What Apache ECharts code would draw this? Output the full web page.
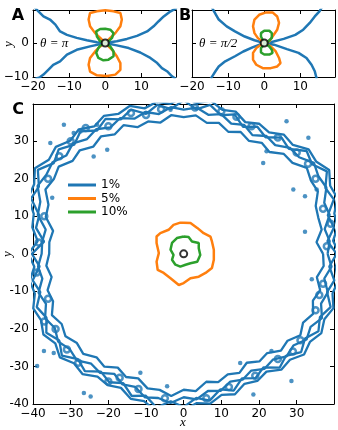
<!DOCTYPE html>
<html>
<head>
<meta charset="utf-8">
<script src="https://cdn.jsdelivr.net/npm/echarts@6/dist/echarts.min.js"></script>
<style>
html, body { margin: 0; padding: 0; background: #fff; }
#main { width: 338px; height: 430px; }
</style>
</head>
<body>
<div id="main"></div>
<script>
var blue = '#1f77b4', orange = '#ff7f0e', green = '#2ca02c';

// ---- panel A (theta = pi) ----
var aArmUL = [[-19.5,10.4],[-18.5,9.3],[-17.1,7.8],[-15.3,6.9],[-13.8,5.4],[-12.5,3.4],[-10.6,2.4],[-7.9,1.5],[-5.1,0.8],[-2.3,0.2],[0,0]];
var aArmLL = [[0,0],[-4.2,-1.0],[-7.9,-2.0],[-10.6,-3.4],[-12.5,-5.4],[-14.4,-6.4],[-15.7,-7.8],[-17.1,-9.3],[-18.1,-10.1],[-19.3,-10.5]];
var aArmUR = [[0,0],[3.2,0.5],[6.0,1.2],[8.8,2.1],[11.6,3.4],[13.4,4.9],[14.8,6.4],[16.2,7.8],[18.1,9.3],[19.0,9.8],[19.8,10.4]];
var aArmLR = [[0,0],[3.2,-0.7],[6.5,-1.5],[9.7,-2.8],[12.5,-4.4],[14.4,-5.9],[15.7,-7.4],[17.1,-8.3],[18.5,-9.8],[19.5,-10.5]];
var aOrange = [[0,0],[-1.4,1.5],[-2.8,2.9],[-4.2,4.9],[-4.6,6.9],[-4.2,8.8],[-2.3,9.3],[0,9.6],[2.3,9.3],[4.2,8.8],[4.6,6.9],[4.2,4.9],[2.8,2.9],[1.4,1.5],[0,0],
  [1.9,-2.0],[3.2,-3.9],[4.2,-5.9],[4.2,-7.9],[2.8,-9.3],[0.5,-9.7],[-2.3,-9.5],[-4.2,-8.4],[-4.6,-6.4],[-4.2,-4.4],[-2.8,-2.5],[-1.4,-1.0],[0,0]];
var aGreen = [[0,0],[-1.4,0.5],[-2.3,1.9],[-2.5,3.4],[-1.4,4.1],[0,4.2],[1.4,3.9],[2.3,2.9],[1.9,1.5],[0.9,0.5],[0,0],
  [1.4,-1.0],[2.3,-2.5],[2.3,-3.9],[0.9,-4.9],[-0.5,-5.1],[-1.9,-4.4],[-2.5,-2.9],[-1.9,-1.5],[-1.4,-0.8],[0,0]];

// ---- panel B (theta = pi/2) ----
var bArmUL = [[-14.5,10.5],[-13.9,9.3],[-12.6,6.9],[-10.4,4.9],[-8.1,3.4],[-5.4,1.9],[-2.7,0.8],[0,0]];
var bArmLL = [[0,0],[-3.1,-1.2],[-5.8,-2.5],[-8.1,-3.9],[-10.8,-5.4],[-12.6,-6.9],[-13.5,-8.3],[-14.4,-9.8],[-14.8,-10.5]];
var bArmUR = [[0,0],[1.8,0.2],[5.4,1.2],[8.6,2.4],[10.8,3.9],[12.6,5.9],[14.0,7.8],[15.3,9.3],[16.0,10.5]];
var bArmLR = [[0,0],[2.7,-0.5],[6.3,-1.8],[9.5,-2.9],[11.7,-4.4],[13.1,-6.4],[14.0,-8.3],[14.4,-10.0],[14.6,-10.5]];
var bOrange = [[0,0],[-1.8,1.5],[-2.7,2.9],[-3.1,4.9],[-2.7,6.9],[-1.4,8.3],[0.5,9.0],[2.3,9.0],[3.6,7.8],[4.1,5.9],[3.6,3.9],[2.3,1.9],[1.4,0.5],[0,0],
  [1.8,-1.0],[3.2,-2.5],[4.1,-4.4],[4.5,-5.9],[3.6,-6.9],[1.8,-7.4],[-0.4,-7.4],[-2.2,-6.4],[-3.1,-4.9],[-3.1,-2.9],[-2.2,-1.5],[-0.9,-0.5],[0,0]];
var bGreen = [[0,0],[-0.9,1.9],[-0.9,2.9],[0,3.6],[1.4,3.6],[2.1,2.9],[2.1,1.5],[0.9,0.3],[0,0],
  [1.4,-1.0],[2.1,-2.0],[2.3,-2.9],[1.4,-3.4],[0,-3.4],[-0.9,-2.8],[-0.9,-1.5],[-0.2,-0.7],[0,0]];

// ---- panel C ----
var cOrange = [[0,8.3],[-0.9,8.3],[-2.7,7.7],[-4.0,6.4],[-6.2,5.5],[-7.2,4.6],[-7.2,2.9],[-6.6,0.2],[-7.2,-2.1],[-6.9,-4.3],[-5.3,-5.1],[-3.5,-6.5],[-1.3,-8.3],[0,-7.8],
  [1.8,-6.5],[4.0,-6.1],[5.8,-5.1],[7.5,-3.8],[8.0,-1.6],[8.0,1.1],[7.5,3.3],[7.1,4.6],[5.3,5.5],[3.6,6.9],[1.8,8.2],[0,8.3]];
var cGreen = [[0,4.6],[-1.8,4.2],[-3.1,2.9],[-3.5,1.1],[-2.7,-0.3],[-3.1,-1.6],[-2.2,-2.9],[-0.9,-3.4],[0.5,-2.9],[1.8,-2.5],[3.6,-2.1],[4.4,-0.3],[4.0,1.5],[4.0,2.9],[2.2,3.3],[1.3,4.5],[0,4.6]];

// 1% ring: radius read at each angle (degrees), four wiggly strands
var ringAngles = [0,5,10,15,20,25,30,35,40,45,50,55,60,65,70,75,80,85,90,95,100,105,110,115,120,125,130,135,140,145,150,155,160,165,170,175,
  180,185,190,195,200,205,210,215,220,225,230,235,240,245,250,255,260,265,270,275,280,285,290,295,300,305,310,315,320,325,330,335,340,345,350,355];
var ringInner = [37.0,35.4,37.2,37.0,37.3,39.3,39.0,39.9,37.7,37.6,35.4,36.1,34.7,35.8,34.6,36.1,35.4,37.0,36.4,37.1,35.5,36.5,35.9,37.8,36.7,38.2,37.3,39.0,38.5,40.5,39.8,40.5,38.2,37.9,35.2,35.8,
  35.7,36.6,35.6,37.4,36.9,38.6,37.4,38.3,37.0,37.7,36.0,36.7,35.0,36.2,35.3,37.1,36.8,38.0,36.2,36.7,34.6,35.4,34.2,35.0,33.5,35.0,34.5,36.5,36.0,37.8,36.6,37.9,36.5,37.5,35.9,37.3];
var ringMid = [38.2,38.9,38.0,40.1,39.7,41.8,41.3,42.2,40.0,39.9,37.8,38.3,36.5,37.9,36.9,38.5,37.6,39.1,38.4,39.2,37.8,39.1,38.3,39.9,38.9,40.5,39.9,41.6,40.7,42.5,42.1,42.8,40.5,40.1,37.2,37.7,
  37.7,38.8,38.1,39.9,38.9,40.6,39.5,40.7,39.5,40.1,38.2,38.7,36.9,38.4,37.7,39.6,39.0,39.9,38.2,38.9,37.1,37.8,36.2,37.0,35.9,37.4,36.8,38.6,38.0,39.8,38.9,40.5,38.8,39.6,37.9,39.4];
var ringMid2 = [40.6,38.3,40.5,39.6,42.4,41.5,43.9,41.6,42.6,39.5,40.4,37.9,39.1,37.3,39.5,38.2,40.3,38.6,40.9,38.7,40.3,38.6,40.9,39.5,41.5,40.1,42.6,41.1,43.3,42.1,44.7,42.4,43.1,39.7,39.8,37.2,
  40.3,38.4,40.7,39.4,41.5,40.2,42.1,40.3,42.2,39.7,40.8,38.3,39.5,38.0,40.3,39.1,41.6,39.4,40.8,38.5,39.7,37.4,38.8,36.6,38.2,36.9,39.6,38.4,40.7,39.3,41.3,39.9,41.5,39.4,40.6,38.8];
var ringOuter = [41.4,39.8,41.5,41.4,43.4,42.9,44.6,42.9,43.3,41.0,41.4,39.5,40.0,38.7,40.3,39.7,41.4,40.3,41.8,40.1,41.1,40.1,41.9,41.1,42.4,41.4,43.3,42.6,44.3,43.7,45.6,43.8,43.9,41.2,40.8,38.9,
  41.2,39.8,41.5,40.9,42.5,41.8,43.0,41.6,42.9,41.2,41.8,39.9,40.4,39.4,41.1,40.6,42.6,41.1,41.7,39.9,40.5,38.9,39.8,38.2,39.1,38.3,40.3,39.9,41.7,40.9,42.2,41.2,42.3,40.9,41.6,40.5];
// small closed loops inside the band
var ringLoops = [[-30,30],[-26,33.5],[-20,34],[-14,37.5],[-36,20],[-37,10],[-38.5,3],[-36,-12],[-34,-20],[-28,-29],[-20,-34],[-12,-36],
  [-5,-38.5],[6,-38.5],[12,-35.5],[19,-32.5],[25,-28],[31,-23],[35,-15],[37,-8],[38,2],[37,12],[35,20],[30,27],[25,31],[18,34],
  [10,38],[3,39],[-6,38.5],[-33,26],[-39,-5],[-37,-18],[-31,-25.5],[-17,-33],[29,-26],[36,-11],[39,8],[33,24],[14,36.5],[-10,37]];
// isolated specks around the band
var ringDots = [[21.1,24.2],[29.1,17.1],[32.2,15.3],[32.2,5.9],[22.0,27.3],[33.1,30.9],[27.3,35.3],[35.3,17.1],
  [-29.2,32.2],[-31.8,34.4],[-23.9,25.9],[-20.3,27.7],[-34.9,14.9],[-3.5,38.4],[-35.4,29.5],[-27.4,32.6],[-23.0,34.4],
  [-37.1,-25.9],[-38.9,-29.9],[-26.5,-37.1],[-24.7,-38.0],[-11.5,-31.7],[-4.4,-35.3],[-34.5,-26.4],
  [23.3,-25.9],[15.0,-29.1],[28.6,-33.9],[34.0,-6.8],[18.5,-37.5]];

function ringToXY(rs) {
  var pts = ringAngles.map(function (a, i) {
    var t = a * Math.PI / 180;
    return [rs[i] * Math.cos(t), rs[i] * Math.sin(t)];
  });
  pts.push(pts[0]);
  return pts;
}

function tickFmt(minus) {
  return function (v) {
    if (Math.abs(v % 10) > 1e-6) return '';
    return String(Math.round(v)).replace('-', minus);
  };
}

var xAxes = [], yAxes = [];
function addAxes(g, xr, yr, showX, showY, yMinus) {
  var base = {
    type: 'value', gridIndex: g, interval: 10, splitLine: { show: false },
    axisLine: { show: true, onZero: false, lineStyle: { color: '#000', width: 1 } },
    axisTick: { show: true, inside: true, length: 4, lineStyle: { color: '#000', width: 1 } }
  };
  var lbl = { color: '#000', fontSize: 12, fontFamily: 'DejaVu Sans', margin: 4 };
  xAxes.push(Object.assign({}, base, { min: xr[0], max: xr[1], position: 'bottom',
    axisLabel: Object.assign({ show: showX, formatter: tickFmt('\u2212') }, lbl) }));
  xAxes.push(Object.assign({}, base, { min: xr[0], max: xr[1], position: 'top', axisLabel: { show: false } }));
  yAxes.push(Object.assign({}, base, { min: yr[0], max: yr[1], position: 'left',
    axisLabel: Object.assign({ show: showY, formatter: tickFmt(yMinus) }, lbl) }));
  yAxes.push(Object.assign({}, base, { min: yr[0], max: yr[1], position: 'right', axisLabel: { show: false } }));
}
addAxes(0, [-20, 19.6], [-10, 9.7], true, true, '\u2212');
addAxes(1, [-20, 19.6], [-10, 9.7], true, false, '\u2212');
addAxes(2, [-40, 39.9], [-40, 39.9], true, true, '-');

var series = [];
function line(name, data, color, g, width, z) {
  series.push({
    name: name, type: 'line', data: data, xAxisIndex: g * 2, yAxisIndex: g * 2,
    symbol: 'none', showSymbol: false, animation: false, clip: true, z: z || 2,
    itemStyle: { color: color }, lineStyle: { color: color, width: width || 2.5 }
  });
}
function origin(g) {
  series.push({
    name: 'origin', type: 'scatter', data: [[0, 0]], xAxisIndex: g * 2, yAxisIndex: g * 2,
    symbolSize: 7, animation: false, z: 5,
    itemStyle: { color: '#fff', borderColor: '#000', borderWidth: 2 }
  });
}

[aArmUL, aArmLL, aArmUR, aArmLR].forEach(function (d) { line('1%', d, blue, 0); });
line('5%', aOrange, orange, 0, 2.5, 3);
line('10%', aGreen, green, 0, 2.5, 3);
origin(0);

[bArmUL, bArmLL, bArmUR, bArmLR].forEach(function (d) { line('1%', d, blue, 1); });
line('5%', bOrange, orange, 1, 2.5, 3);
line('10%', bGreen, green, 1, 2.5, 3);
origin(1);

[ringInner, ringMid, ringMid2, ringOuter].forEach(function (r) { line('1%', ringToXY(r), blue, 2, 2.3); });
series.push({
  name: '1%', type: 'scatter', data: ringLoops, xAxisIndex: 4, yAxisIndex: 4,
  symbolSize: 6, animation: false, clip: true,
  itemStyle: { color: 'rgba(0,0,0,0)', borderColor: blue, borderWidth: 2.5 }
});
series.push({
  name: '1%', type: 'scatter', data: ringDots, xAxisIndex: 4, yAxisIndex: 4,
  symbolSize: 4.5, animation: false, clip: true, itemStyle: { color: blue }
});
line('5%', cOrange, orange, 2, 2.5, 3);
line('10%', cGreen, green, 2, 2.5, 3);
origin(2);

var mathFont = 'italic 13px "Liberation Serif"';
var myChart = echarts.init(document.getElementById('main'));
var option = {
  animation: false,
  grid: [
    { left: 33, top: 10, width: 143, height: 67 },
    { left: 192, top: 10, width: 143, height: 67 },
    { left: 33, top: 104, width: 301, height: 300 }
  ],
  xAxis: xAxes,
  yAxis: yAxes,
  legend: {
    orient: 'vertical', left: 68, top: 179, padding: 0, itemWidth: 28, itemHeight: 3, itemGap: 1.5,
    icon: 'rect', selectedMode: false,
    data: ['1%', '5%', '10%'],
    textStyle: { color: '#000', fontSize: 12, fontFamily: 'DejaVu Sans' }
  },
  graphic: [
    { type: 'text', x: 18, y: 16, style: { text: 'A', font: 'bold 16px "DejaVu Sans"', fill: '#000', align: 'center', verticalAlign: 'middle' } },
    { type: 'text', x: 185, y: 16, style: { text: 'B', font: 'bold 16px "DejaVu Sans"', fill: '#000', align: 'center', verticalAlign: 'middle' } },
    { type: 'text', x: 18, y: 110, style: { text: 'C', font: 'bold 16px "DejaVu Sans"', fill: '#000', align: 'center', verticalAlign: 'middle' } },
    { type: 'text', x: 40, y: 44, style: { text: '\u03b8 = \u03c0', font: mathFont, fill: '#000', align: 'left', verticalAlign: 'middle' } },
    { type: 'text', x: 199, y: 44, style: { text: '\u03b8 = \u03c0/2', font: mathFont, fill: '#000', align: 'left', verticalAlign: 'middle' } },
    { type: 'text', x: 9, y: 44, rotation: Math.PI / 2, style: { text: 'y', font: mathFont, fill: '#000', align: 'center', verticalAlign: 'middle' } },
    { type: 'text', x: 8, y: 254, rotation: Math.PI / 2, style: { text: 'y', font: mathFont, fill: '#000', align: 'center', verticalAlign: 'middle' } },
    { type: 'text', x: 183, y: 423, style: { text: 'x', font: mathFont, fill: '#000', align: 'center', verticalAlign: 'middle' } }
  ],
  series: series
};
myChart.setOption(option);
</script>
</body>
</html>
